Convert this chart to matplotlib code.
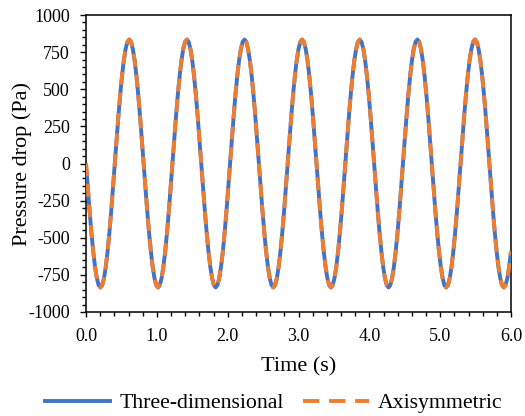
import numpy as np
import matplotlib
matplotlib.use("Agg")
import matplotlib.pyplot as plt
from matplotlib.lines import Line2D
from matplotlib.ticker import MultipleLocator, FormatStrFormatter

plt.rcParams['font.family'] = ['Liberation Serif', 'DejaVu Serif']
plt.rcParams['axes.unicode_minus'] = False

# Time axis: evenly sampled from 0.0 s to 6.0 s
time_start = 0.0
time_end = 6.0

# Pressure drop (Pa)
three_dimensional = [
    0, -163, -320, -464, -590, -694, -771, -819, -835, -819, -771, -694, -590, -464, -320, -163,
    0, 163, 320, 464, 590, 694, 771, 819, 835, 819, 771, 694, 590, 464, 320, 163,
    0, -163, -320, -464, -590, -694, -771, -819, -835, -819, -771, -694, -590, -464, -320, -163,
    0, 163, 320, 464, 590, 694, 771, 819, 835, 819, 771, 694, 590, 464, 320, 163,
    0, -163, -320, -464, -590, -694, -771, -819, -835, -819, -771, -694, -590, -464, -320, -163,
    0, 163, 320, 464, 590, 694, 771, 819, 835, 819, 771, 694, 590, 464, 320, 163,
    0, -163, -320, -464, -590, -694, -771, -819, -835, -819, -771, -694, -590, -464, -320, -163,
    0, 163, 320, 464, 590, 694, 771, 819, 835, 819, 771, 694, 590, 464, 320, 163,
    0, -163, -320, -464, -590, -694, -771, -819, -835, -819, -771, -694, -590, -464, -320, -163,
    0, 163, 320, 464, 590, 694, 771, 819, 835, 819, 771, 694, 590, 464, 320, 163,
    0, -163, -320, -464, -590, -694, -771, -819, -835, -819, -771, -694, -590, -464, -320, -163,
    0, 163, 320, 464, 590, 694, 771, 819, 835, 819, 771, 694, 590, 464, 320, 163,
    0, -163, -320, -464, -590, -694, -771, -819, -835, -819, -771, -694, -590, -464, -320, -163,
    0, 163, 320, 464, 590, 694, 771, 819, 835, 819, 771, 694, 590, 464, 320, 163,
    0, -163, -320, -464, -590, -694, -771, -819, -835, -819, -771, -694, -590,
]

axisymmetric = [
    0, -163, -320, -464, -590, -694, -771, -819, -835, -819, -771, -694, -590, -464, -320, -163,
    0, 163, 320, 464, 590, 694, 771, 819, 835, 819, 771, 694, 590, 464, 320, 163,
    0, -163, -320, -464, -590, -694, -771, -819, -835, -819, -771, -694, -590, -464, -320, -163,
    0, 163, 320, 464, 590, 694, 771, 819, 835, 819, 771, 694, 590, 464, 320, 163,
    0, -163, -320, -464, -590, -694, -771, -819, -835, -819, -771, -694, -590, -464, -320, -163,
    0, 163, 320, 464, 590, 694, 771, 819, 835, 819, 771, 694, 590, 464, 320, 163,
    0, -163, -320, -464, -590, -694, -771, -819, -835, -819, -771, -694, -590, -464, -320, -163,
    0, 163, 320, 464, 590, 694, 771, 819, 835, 819, 771, 694, 590, 464, 320, 163,
    0, -163, -320, -464, -590, -694, -771, -819, -835, -819, -771, -694, -590, -464, -320, -163,
    0, 163, 320, 464, 590, 694, 771, 819, 835, 819, 771, 694, 590, 464, 320, 163,
    0, -163, -320, -464, -590, -694, -771, -819, -835, -819, -771, -694, -590, -464, -320, -163,
    0, 163, 320, 464, 590, 694, 771, 819, 835, 819, 771, 694, 590, 464, 320, 163,
    0, -163, -320, -464, -590, -694, -771, -819, -835, -819, -771, -694, -590, -464, -320, -163,
    0, 163, 320, 464, 590, 694, 771, 819, 835, 819, 771, 694, 590, 464, 320, 163,
    0, -163, -320, -464, -590, -694, -771, -819, -835, -819, -771, -694, -590,
]

series_names = ["Three-dimensional", "Axisymmetric"]
x_label = "Time (s)"
y_label = "Pressure drop (Pa)"

blue = "#4472C4"
orange = "#ED7D31"

time = np.linspace(time_start, time_end, len(three_dimensional))

fig = plt.figure(figsize=(5.25, 4.16), dpi=100)
ax = fig.add_axes([86/525, 1-312/416, (511-86)/525, (312-15)/416])

lw = 2.8
ax.plot(time, three_dimensional, color=blue, lw=lw, solid_capstyle='butt', zorder=3)
ax.plot(time, axisymmetric, color=orange, lw=lw, linestyle=(0, (3.3, 2.0)),
        dash_capstyle='butt', zorder=4)

ax.set_xlim(0, 6)
ax.set_ylim(-1000, 1000)
ax.xaxis.set_major_locator(MultipleLocator(1.0))
ax.xaxis.set_minor_locator(MultipleLocator(0.2))
ax.xaxis.set_major_formatter(FormatStrFormatter('%.1f'))
ax.yaxis.set_major_locator(MultipleLocator(250))
ax.yaxis.set_minor_locator(MultipleLocator(50))

ax.tick_params(axis='both', which='both', direction='out', color='black', width=1.0,
               labelsize=13)
ax.tick_params(axis='y', which='major', length=4.5, pad=7)
ax.tick_params(axis='y', which='minor', length=3)
ax.tick_params(axis='x', which='major', length=3.5, pad=8)
ax.tick_params(axis='x', which='minor', length=3)

for s in ax.spines.values():
    s.set_linewidth(1.1)
    s.set_color('black')

ax.set_xlabel(x_label, fontsize=16, labelpad=9)
ax.set_ylabel(y_label, fontsize=16)
ax.yaxis.set_label_coords((32 - 86) / 425, 0.5)

handles = [
    Line2D([0], [0], color=blue, lw=lw),
    Line2D([0], [0], color=orange, lw=lw, linestyle=(0, (4.2, 2.5)), dash_capstyle='butt'),
]
fig.legend(handles, series_names, loc='center', bbox_to_anchor=(273.5/525, 1-403/416),
           ncol=2, frameon=False, fontsize=15.7, handlelength=3.0, handletextpad=0.4,
           columnspacing=0.9, borderaxespad=0, borderpad=0)

fig.savefig("out.png", dpi=100)
